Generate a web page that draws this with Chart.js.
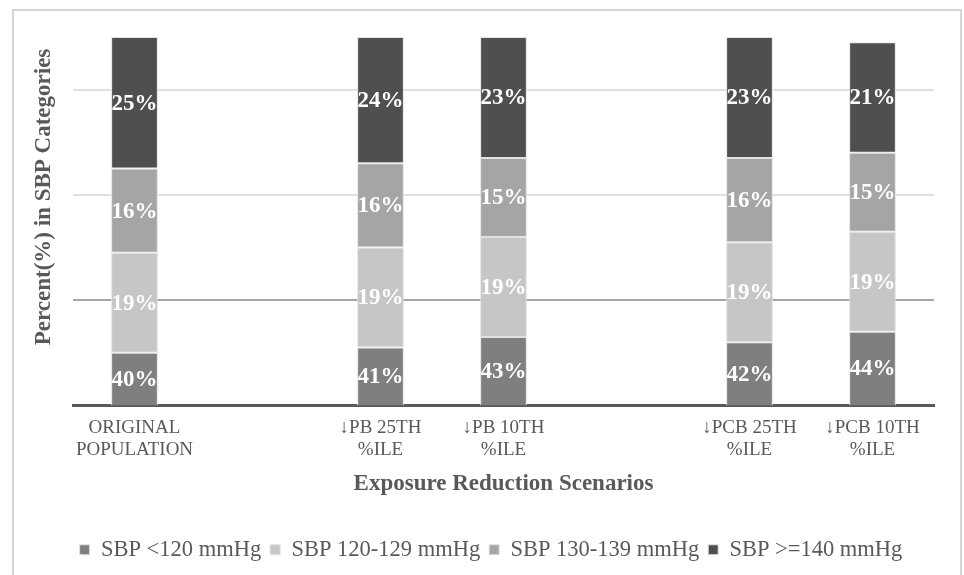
<!DOCTYPE html>
<html>
<head>
<meta charset="utf-8">
<script src="https://cdn.jsdelivr.net/npm/chart.js@4/dist/chart.umd.min.js"></script>
<style>
  html, body { margin: 0; padding: 0; background: #ffffff; }
  #wrap { position: relative; width: 964px; height: 575px; }
  canvas { display: block; }
</style>
</head>
<body>
<div id="wrap"><canvas id="chart" width="964" height="575"></canvas></div>
<script>
// Scenario slots (blank slots separate the scenario groups)
const categories = [
  ['ORIGINAL', 'POPULATION'],
  '',
  ['\u2193PB 25TH', '%ILE'],
  ['\u2193PB 10TH', '%ILE'],
  '',
  ['\u2193PCB 25TH', '%ILE'],
  ['\u2193PCB 10TH', '%ILE']
];

const seriesNames = ['SBP <120 mmHg', 'SBP 120-129 mmHg', 'SBP 130-139 mmHg', 'SBP >=140 mmHg'];

// Percent of the population in each SBP category
const sbpUnder120   = [40, null, 41, 43, null, 42, 44];
const sbp120to129   = [19, null, 19, 19, null, 19, 19];
const sbp130to139   = [16, null, 16, 15, null, 16, 15];
const sbp140andOver = [25, null, 24, 23, null, 23, 21];

// Value axis range and grid positions
const yMin = 30;
const yMax = 100;
const gridValues = [30, 50, 70, 90, 100];

const seriesColors = ['#7f7f7f', '#c6c6c6', '#a5a5a5', '#4f4f4f'];

const TEXT = '#595959';
const SERIF = "'Liberation Serif', 'Times New Roman', serif";
const Y_TITLE = 'Percent(%) in SBP Categories';

// Writes each segment's value in the middle of its visible part
const segmentLabels = {
  id: 'segmentLabels',
  afterDatasetsDraw(chart) {
    const ctx = chart.ctx;
    const area = chart.chartArea;
    ctx.save();
    ctx.fillStyle = '#ffffff';
    ctx.font = 'bold 23px ' + SERIF;
    ctx.textAlign = 'center';
    ctx.textBaseline = 'middle';
    chart.data.datasets.forEach((ds, di) => {
      const meta = chart.getDatasetMeta(di);
      meta.data.forEach((bar, i) => {
        const v = ds.data[i];
        if (v === null || v === undefined) return;
        const top = Math.max(bar.y, area.top);
        const bottom = Math.min(bar.base, area.bottom);
        ctx.fillText(v + '%', bar.x, (top + bottom) / 2 + 1);
      });
    });
    ctx.restore();
  }
};

// Light frame around the figure and the rotated value-axis title
const frame = {
  id: 'frame',
  beforeDraw(chart) {
    const ctx = chart.ctx;
    ctx.save();
    ctx.strokeStyle = '#d6d6d6';
    ctx.lineWidth = 2;
    ctx.strokeRect(13, 10, 948, 580);
    ctx.restore();
  },
  afterDraw(chart) {
    const ctx = chart.ctx;
    ctx.save();
    ctx.translate(44, 197);
    ctx.rotate(-Math.PI / 2);
    ctx.fillStyle = TEXT;
    ctx.font = 'bold 23px ' + SERIF;
    ctx.textAlign = 'center';
    ctx.textBaseline = 'middle';
    ctx.fillText(Y_TITLE, 0, 0);
    ctx.restore();
  }
};

const datasets = [sbpUnder120, sbp120to129, sbp130to139, sbp140andOver].map((vals, k) => ({
  label: seriesNames[k],
  data: vals,
  backgroundColor: seriesColors[k],
  borderColor: '#e2e2e2',
  borderWidth: 1,
  borderSkipped: false,
  barPercentage: 0.76,
  categoryPercentage: 0.5
}));

new Chart(document.getElementById('chart'), {
  type: 'bar',
  data: { labels: categories, datasets },
  plugins: [frame, segmentLabels],
  options: {
    responsive: false,
    animation: false,
    layout: { padding: { left: 48, right: 30, top: 37, bottom: 4 } },
    plugins: {
      legend: {
        position: 'bottom',
        labels: {
          boxWidth: 10,
          boxHeight: 10,
          padding: 9,
          color: TEXT,
          font: { family: SERIF, size: 22.5 }
        }
      },
      tooltip: { enabled: false }
    },
    scales: {
      x: {
        stacked: true,
        grid: { display: false, drawTicks: false },
        border: { display: true, color: '#595959', width: 3 },
        ticks: {
          color: TEXT,
          maxRotation: 0,
          autoSkip: false,
          padding: 11,
          font: { family: SERIF, size: 19, lineHeight: 1.2 }
        },
        title: {
          display: true,
          text: 'Exposure Reduction Scenarios',
          color: TEXT,
          font: { family: SERIF, size: 23, weight: 'bold', lineHeight: 1.2 },
          padding: { top: -3, bottom: 32 }
        }
      },
      y: {
        stacked: true,
        min: yMin,
        max: yMax,
        afterBuildTicks: (scale) => {
          scale.ticks = gridValues.map((v) => ({ value: v }));
        },
        afterFit: (scale) => { scale.width = 25; },
        ticks: { display: false },
        border: { display: false },
        grid: {
          drawTicks: false,
          lineWidth: 2,
          color: (c) => {
            const v = c.tick ? c.tick.value : null;
            if (v === 50) return '#a6a6a6';
            if (v === 70 || v === 90) return '#e0e0e0';
            return 'rgba(0,0,0,0)';
          }
        }
      }
    }
  }
});
</script>
</body>
</html>
